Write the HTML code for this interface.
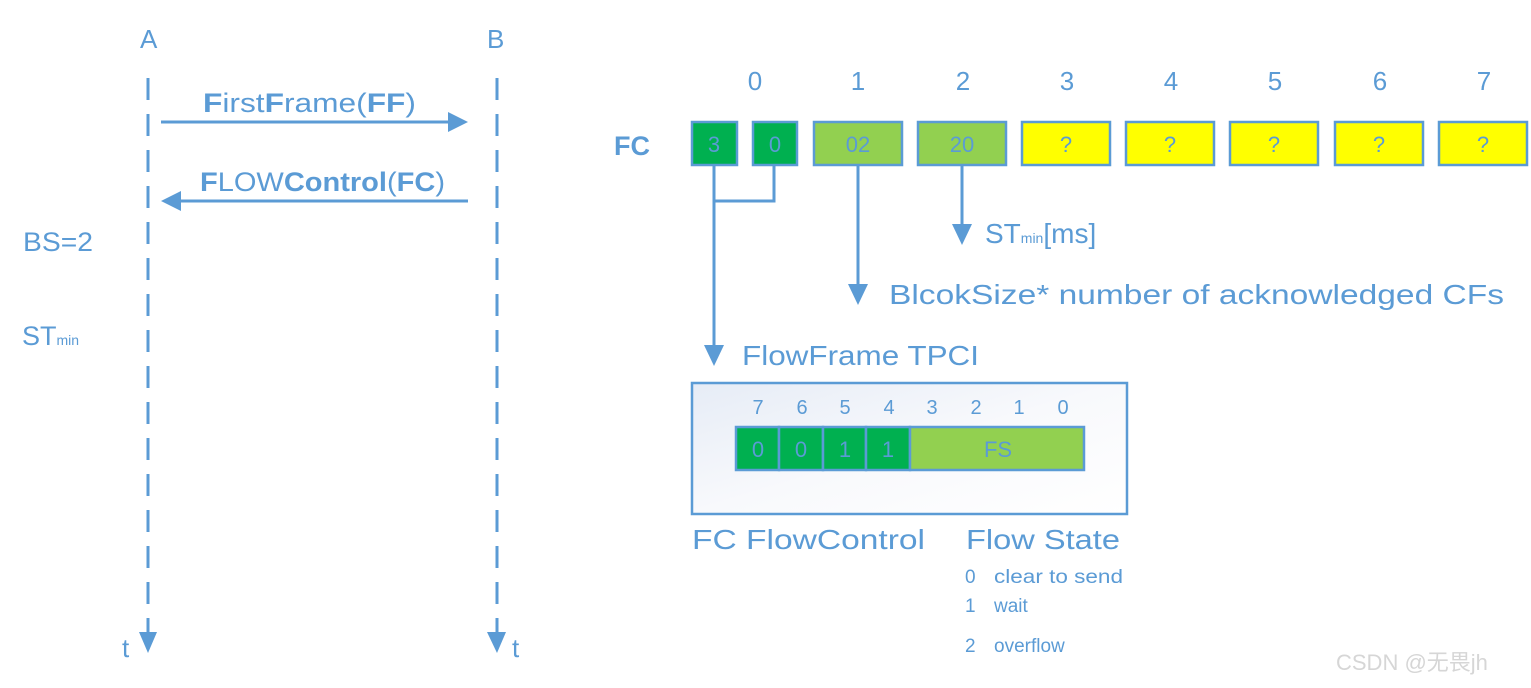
<!DOCTYPE html>
<html><head><meta charset="utf-8"><style>
html,body{margin:0;padding:0;background:#fff;width:1531px;height:688px;overflow:hidden}
svg{display:block}
text{font-family:"Liberation Sans","Noto Sans CJK SC",sans-serif;fill:#5b9bd5}
</style></head><body>
<svg width="1531" height="688" viewBox="0 0 1531 688" xmlns="http://www.w3.org/2000/svg">
<defs>
<linearGradient id="g" x1="0" y1="0" x2="1" y2="1">
<stop offset="0" stop-color="#e6ecf6"/><stop offset="0.5" stop-color="#f8f9fc"/><stop offset="1" stop-color="#ffffff"/>
</linearGradient>
</defs>
<g stroke="#5b9bd5" stroke-width="3" fill="none">
<line x1="148" y1="78" x2="148" y2="640" stroke-dasharray="22,14"/>
<line x1="497" y1="78" x2="497" y2="640" stroke-dasharray="22,14"/>
<line x1="161" y1="122" x2="448" y2="122"/>
<line x1="468" y1="201" x2="180" y2="201"/>
<polyline points="714,165 714,345"/>
<polyline points="774,165 774,201 714,201"/>
<line x1="858" y1="165" x2="858" y2="286"/>
<line x1="962" y1="165" x2="962" y2="228"/>
</g>
<g fill="#5b9bd5">
<polygon points="448,112 468,122 448,132"/>
<polygon points="181,191 161,201 181,211"/>
<polygon points="139,632 157,632 148,653"/>
<polygon points="487,632 506,632 497,653"/>
<polygon points="704,345 724,345 714,366"/>
<polygon points="848,284 868,284 858,305"/>
<polygon points="952,224 972,224 962,245"/>
</g>
<text x="140" y="48" font-size="26">A</text>
<text x="487" y="48" font-size="26">B</text>
<text x="203" y="112" font-size="27" textLength="213" lengthAdjust="spacingAndGlyphs"><tspan font-weight="bold">F</tspan>irst<tspan font-weight="bold">F</tspan>rame(<tspan font-weight="bold">FF</tspan>)</text>
<text x="200" y="191" font-size="27" textLength="245" lengthAdjust="spacingAndGlyphs"><tspan font-weight="bold">F</tspan>LOW<tspan font-weight="bold">Control</tspan>(<tspan font-weight="bold">FC</tspan>)</text>
<text x="23" y="251" font-size="27" textLength="70" lengthAdjust="spacingAndGlyphs">BS=2</text>
<text x="22" y="345" font-size="27">ST<tspan font-size="14">min</tspan></text>
<text x="122" y="657" font-size="26">t</text>
<text x="512" y="657" font-size="26">t</text>
<text x="614" y="155" font-size="27" font-weight="bold">FC</text>
<g font-size="26" text-anchor="middle">
<text x="755" y="90">0</text><text x="858" y="90">1</text><text x="963" y="90">2</text><text x="1067" y="90">3</text><text x="1171" y="90">4</text><text x="1275" y="90">5</text><text x="1380" y="90">6</text><text x="1484" y="90">7</text>
</g>
<g stroke="#5b9bd5" stroke-width="2.5">
<rect x="692" y="122" width="45" height="43" fill="#00b050"/>
<rect x="753" y="122" width="44" height="43" fill="#00b050"/>
<rect x="814" y="122" width="88" height="43" fill="#92d050"/>
<rect x="918" y="122" width="88" height="43" fill="#92d050"/>
<rect x="1022" y="122" width="88" height="43" fill="#ffff00"/>
<rect x="1126" y="122" width="88" height="43" fill="#ffff00"/>
<rect x="1230" y="122" width="88" height="43" fill="#ffff00"/>
<rect x="1335" y="122" width="88" height="43" fill="#ffff00"/>
<rect x="1439" y="122" width="88" height="43" fill="#ffff00"/>
</g>
<g font-size="22" text-anchor="middle">
<text x="714" y="152">3</text><text x="775" y="152">0</text><text x="858" y="152">02</text><text x="962" y="152">20</text>
<text x="1066" y="152">?</text><text x="1170" y="152">?</text><text x="1274" y="152">?</text><text x="1379" y="152">?</text><text x="1483" y="152">?</text>
</g>
<text x="985" y="243" font-size="28">ST<tspan font-size="14">min</tspan>[ms]</text>
<text x="889" y="304" font-size="28" textLength="615" lengthAdjust="spacingAndGlyphs">BlcokSize*  number of acknowledged CFs</text>
<text x="742" y="365" font-size="28" textLength="237" lengthAdjust="spacingAndGlyphs">FlowFrame TPCI</text>
<rect x="692" y="383" width="435" height="131" fill="url(#g)" stroke="#5b9bd5" stroke-width="2.5"/>
<g font-size="20" text-anchor="middle">
<text x="758" y="414">7</text><text x="802" y="414">6</text><text x="845" y="414">5</text><text x="889" y="414">4</text><text x="932" y="414">3</text><text x="976" y="414">2</text><text x="1019" y="414">1</text><text x="1063" y="414">0</text>
</g>
<g stroke="#5b9bd5" stroke-width="2.5">
<rect x="736" y="427" width="43" height="43" fill="#00b050"/>
<rect x="779" y="427" width="44" height="43" fill="#00b050"/>
<rect x="823" y="427" width="43" height="43" fill="#00b050"/>
<rect x="866" y="427" width="44" height="43" fill="#00b050"/>
<rect x="910" y="427" width="174" height="43" fill="#92d050"/>
</g>
<g font-size="22" text-anchor="middle">
<text x="758" y="457">0</text><text x="801" y="457">0</text><text x="845" y="457">1</text><text x="888" y="457">1</text><text x="998" y="457">FS</text>
</g>
<text x="692" y="549" font-size="28" textLength="233" lengthAdjust="spacingAndGlyphs">FC  FlowControl</text>
<text x="966" y="549" font-size="28" textLength="154" lengthAdjust="spacingAndGlyphs">Flow State</text>
<g font-size="19">
<text x="965" y="583">0</text><text x="994" y="583" textLength="129" lengthAdjust="spacingAndGlyphs">clear to send</text>
<text x="965" y="612">1</text><text x="994" y="612">wait</text>
<text x="965" y="652">2</text><text x="994" y="652">overflow</text>
</g>
<text x="1336" y="670" font-size="22" style="fill:#d6d6d6">CSDN @无畏jh</text>
</svg>
</body></html>
